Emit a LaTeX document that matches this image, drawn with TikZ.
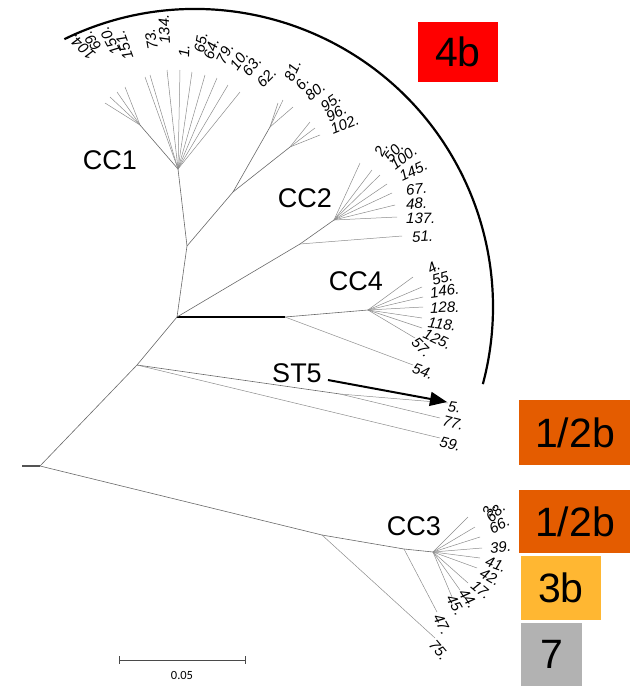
\documentclass[tikz,border=0pt]{standalone}
\usepackage{fontspec}
\setmainfont{Liberation Sans}
\newfontfamily\scalefont{Carlito}
\usetikzlibrary{arrows.meta}
\definecolor{brc}{RGB}{105,105,105}
\definecolor{tipc}{RGB}{140,140,140}
\definecolor{boxred}{RGB}{255,0,0}
\definecolor{boxorange}{RGB}{228,92,0}
\definecolor{boxyellow}{RGB}{255,183,50}
\definecolor{boxgray}{RGB}{178,178,178}
\begin{document}
\begin{tikzpicture}[x=1pt,y=1pt,
  br/.style={draw=brc,line width=0.6pt},
  tip/.style={draw=tipc,line width=0.5pt},
  lab/.style={font=\itshape\fontsize{15}{15}\selectfont,inner sep=0pt,anchor=west},
  cc/.style={font=\fontsize{27}{27}\selectfont,inner sep=0pt},
  tag/.style={font=\fontsize{41}{41}\selectfont,inner sep=0pt}]
\useasboundingbox (0,0) rectangle (630,-686);
% internal nodes
\coordinate (S) at (22,-466);
\coordinate (R) at (40,-466);
\coordinate (A) at (137,-365);
\coordinate (M) at (322,-535);
\coordinate (C) at (177,-317);
\coordinate (B) at (340,-394);
\coordinate (D) at (285,-317);
\coordinate (E) at (187,-246);
\coordinate (F) at (178,-169);
\coordinate (I) at (140,-125);
\coordinate (H) at (233,-192);
\coordinate (G1) at (270,-127);
\coordinate (G2) at (290,-147);
\coordinate (K) at (300,-244);
\coordinate (J) at (334,-220);
\coordinate (L) at (368,-310);
\coordinate (N) at (404,-549);
\coordinate (O) at (433,-552);
% internal branches
\draw[draw=brc!80!black,line width=1.3pt] (S) -- (R);
\draw[br] (R) -- (A);
\draw[br] (R) -- (M);
\draw[br] (A) -- (C);
\draw[br] (A) -- (B);
\draw[draw=black,line width=1.3pt] (C) -- (D);
\draw[br] (C) -- (E);
\draw[br] (E) -- (F);
\draw[br] (F) -- (I);
\draw[br] (E) -- (H);
\draw[br] (H) -- (G1);
\draw[br] (H) -- (G2);
\draw[br] (C) -- (K);
\draw[br] (K) -- (J);
\draw[br] (D) -- (L);
\draw[br] (M) -- (N);
\draw[br] (N) -- (O);
% tips
\foreach \n/\x/\y/\p in {
  t73/145/77/F, t134/150/75/F, t1/167/70/F, t65/180/70/F, t64/192/72/F,
  t79/205/75/F, t10/217/78/F, t63/228/85/F, t62/240/92/F,
  t104/105/103/I, t69/110/97/I, t150/117/92/I, t151/125/87/I,
  t81/278/103/G1, t6/283/100/G1, t80/293/107/G1,
  t95/310/122/G2, t96/315/128/G2, t102/320/135/G2,
  t2/360/163/J, t50/372/170/J, t100/380/175/J, t145/387/184/J,
  t67/392/193/J, t48/395/205/J, t137/397/217/J,
  t51/402/236/K,
  t4/413/277/L, t55/422/287/L, t146/423/297/L, t128/423/307/L,
  t118/422/318/L, t125/422/328/L, t57/415/338/L,
  t54/413/365/D,
  t5/448/403/B, t77/440/418/B, t59/440/438/A,
  t3/468/517/O, t68/475/527/O, t66/480/537/O, t39/482/548/O,
  t41/480/558/O, t42/477/568/O, t17/468/583/O, t44/460/590/O, t45/452/597/O,
  t47/437/612/N, t75/435/638/M}
  {\coordinate (\n) at (\x,-\y); \draw[tip] (\p) -- (\n);}
% leaf labels
\foreach \t/\x/\y/\r in {
  104./93/57/138, 69./98/50/125, 150./117/54/118, 151./129/59/110,
  73./153/50/100, 134./165/44/93, 1./184/58/88, 65./199/53/80,
  64./208/59/72, 79./220/63/63, 10./233/69/55, 63./245/74/50, 62./259/85/45,
  81./288/80/65, 6./298/88/50, 80./307/98/40, 95./322/108/35,
  96./327/118/28, 102./331/130/22,
  2./378/155/62, 50./387/160/50, 100./392/167/38, 145./400/177/25,
  67./406/190/6, 48./406/204/2, 137./406/218/0, 51./412/237/3,
  4./428/270/30, 55./432/281/15, 146./430/293/8, 128./430/308/2,
  118./428/322/-8, 125./424/333/-25, 57./414/340/-45, 54./413/368/-20,
  5./448/406/-8, 77./443/420/-14, 59./440/441/-14,
  3./486/515/65, 68./488/520/45, 66./490/530/28, 39./490/548/5,
  41./486/561/-20, 42./481/572/-30, 17./473/583/-40, 44./462/590/-55,
  45./450/596/-60, 47./437/615/-62, 75./432/642/-50}
  {\node[lab,rotate=\r] at (\x,-\y) {\t};}
% arc
\draw[line width=2.2pt] (195,-307) ++(116:298) arc[start angle=116,end angle=-15,radius=298];
% clade labels
\node[cc] (cc1) at (110,-160) {CC1};
\node[cc] (cc2) at (305,-198) {CC2};
\node[cc] (cc4) at (356,-281) {CC4};
\node[cc] (cc3) at (414,-526) {CC3};
\node[cc] (st5) at (297,-373) {ST5};
\coordinate (arrowtip) at (447,-402);
\draw[line width=2pt,-{Triangle[length=17pt,width=14pt]}] (st5.east) ++(6,-7) coordinate (arrowstart) -- (arrowtip);
% boxes
\fill[boxred] (418,-22) rectangle (498,-82);
\fill[boxorange] (519,-400) rectangle (630,-465);
\fill[boxorange] (519,-490) rectangle (630,-553);
\fill[boxyellow] (521,-556) rectangle (601,-620);
\fill[boxgray] (521,-623) rectangle (582,-686);
\node[tag] (b4) at (458,-52) {4b};
\node[tag] (b12a) at (575,-432.5) {1/2b};
\node[tag] (b12b) at (575,-521.5) {1/2b};
\node[tag] (b3) at (561,-588) {3b};
\node[tag] (b7) at (552,-654.5) {7};
% scale bar
\coordinate (sb1) at (119,-660);
\coordinate (sb2) at (245,-660);
\draw[draw=brc!70!black,line width=1pt] (sb1) -- (sb2);
\draw[draw=brc!70!black,line width=1pt] (sb1) ++(0,4) -- ++(0,-8);
\draw[draw=brc!70!black,line width=1pt] (sb2) ++(0,4) -- ++(0,-8);
\node[font=\scalefont\fontsize{12.5}{12.5}\selectfont,inner sep=0pt] (sbl) at (182,-675) {0.05};
\end{tikzpicture}
\end{document}
